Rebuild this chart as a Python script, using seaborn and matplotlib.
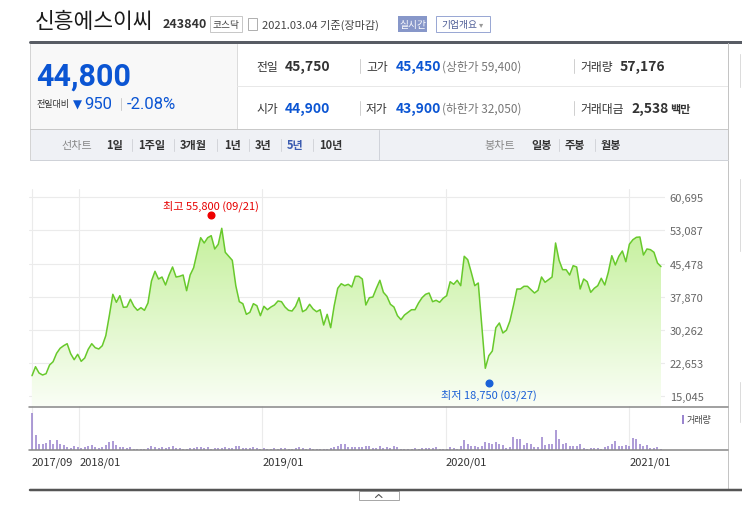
import matplotlib
matplotlib.use("Agg")
import matplotlib.pyplot as plt
import matplotlib.dates as mdates
import matplotlib.transforms as mtransforms
from matplotlib.colors import LinearSegmentedColormap
from matplotlib.lines import Line2D
from matplotlib.patches import Rectangle
import numpy as np
import pandas as pd
import seaborn as sns

W, H = 742, 510

# weekly closing prices, 2017/09 .. 2021/03
closes = [
    19770, 21835, 20390, 19930, 20230, 22225, 22980, 24910, 26060, 26650,
    27110, 24820, 23440, 24680, 23070, 23830, 25830, 27110, 26190, 25900,
    26650, 28950, 33540, 38440, 36610, 38120, 35460, 35530, 37300, 35690,
    34770, 35370, 34770, 36450, 41500, 43720, 41950, 42410, 40580, 42870,
    44710, 42410, 42570, 42870, 39270, 42870, 44550, 48080, 51430, 50210,
    51430, 51890, 48840, 49910, 53580, 48080, 47160, 46240, 40420, 36750,
    36290, 33850, 34310, 36290, 35830, 33540, 35690, 34910, 35530, 35990,
    36910, 36750, 35530, 34770, 34610, 35690, 37660, 34450, 34910, 36150,
    35070, 34450, 34910, 31400, 33850, 30780, 35830, 39820, 40870, 40420,
    40740, 40120, 42570, 42570, 41950, 35990, 37660, 37820, 39820, 41660,
    38900, 37980, 36150, 35530, 33540, 32620, 33690, 34310, 34910, 34910,
    36450, 37660, 38440, 38740, 36750, 37070, 36610, 37530, 38120, 41330,
    40740, 41660, 40420, 47160, 46380, 43490, 40420, 41040, 31250, 21470,
    24360, 25440, 30780, 31860, 29570, 30190, 32320, 35830, 39660, 39660,
    40280, 40280, 39500, 38740, 39360, 42410, 41200, 41790, 42410, 50210,
    46240, 44090, 44090, 42870, 45010, 44710, 39660, 41950, 41330, 38900,
    39820, 40420, 42120, 40580, 43490, 47300, 45170, 47160, 48380, 45920,
    49920, 50970, 51520, 51590, 47460, 48840, 48680, 48080, 45620, 44800,
]

# weekly volume (thousand shares, estimated)
volumes = [
    1080, 450, 180, 180, 200, 300, 180, 300, 180, 150,
    90, 70, 120, 90, 70, 90, 120, 150, 90, 50,
    90, 150, 240, 270, 150, 90, 90, 70, 90, 30,
    30, 30, 30, 70, 120, 90, 70, 90, 50, 90,
    120, 70, 70, 40, 40, 70, 70, 90, 90, 60,
    90, 40, 60, 60, 60, 90, 60, 60, 120, 120,
    60, 60, 60, 90, 60, 30, 60, 40, 40, 60,
    40, 60, 60, 40, 40, 60, 90, 60, 40, 60,
    40, 40, 40, 40, 40, 60, 90, 120, 180, 180,
    90, 90, 90,
    90, 90, 120, 120, 60, 60, 120, 60, 90, 60,
    120, 90, 30, 30, 30, 30, 60, 30, 60, 60,
    60, 60, 90, 30, 30, 30, 90, 60, 30, 120,
    300, 180, 120, 120, 90, 120, 240, 210, 180, 240,
    180, 150, 60, 90, 390, 330, 330, 150, 210, 180,
    90, 90, 390, 150, 180, 180, 570, 330, 180, 210,
    120, 120, 120, 180, 60, 30, 60, 60, 60, 30,
    90, 120, 180, 270, 120, 120, 150, 120, 360, 330,
    180, 120, 150, 60, 60, 90, 30,
]
last_week = "2021-03-05"

tick_dates = ["2017-09-29", "2018-01-01", "2019-01-01", "2020-01-01", "2021-01-01"]
tick_labels = ["2017/09", "2018/01", "2019/01", "2020/01", "2021/01"]
price_ticks = [15045, 22653, 30262, 37870, 45478, 53087, 60695]

hi_date, hi_value, hi_label = "2018-09-21", 55800, "최고 55,800 (09/21)"
lo_date, lo_value, lo_label = "2020-03-27", 18750, "최저 18,750 (03/27)"

name, code, market, asof = "신흥에스이씨", "243840", "코스닥", "2021.03.04 기준(장마감)"
price, change, change_pct = "44,800", "950", "-2.08%"
row1 = [("전일", "45,750", "dark", ""), ("고가", "45,450", "blue", "(상한가 59,400)"), ("거래량", "57,176", "dark", "")]
row2 = [("시가", "44,900", "blue", ""), ("저가", "43,900", "blue", "(하한가 32,050)"), ("거래대금", "2,538", "dark", "백만")]
line_tabs = ["1일", "1주일", "3개월", "1년", "3년", "5년", "10년"]
candle_tabs = ["일봉", "주봉", "월봉"]

BLUE = "#0b55d3"
DARK = "#333333"

sns.set_theme(style="white")
plt.rcParams["font.family"] = ["Noto Sans CJK KR", "DejaVu Sans"]

fig = plt.figure(figsize=(W / 100, H / 100), dpi=100)


def fx(x):
    return x / W


def fy(y):
    return 1 - y / H


def text(x, y, s, **kw):
    kw.setdefault("va", "center")
    fig.text(fx(x), fy(y), s, **kw)


def hline(x0, x1, y, color, lw=1.0):
    fig.add_artist(Line2D([fx(x0), fx(x1)], [fy(y), fy(y)], color=color, lw=lw * 0.72))


def vline(x, y0, y1, color, lw=1.0):
    fig.add_artist(Line2D([fx(x), fx(x)], [fy(y0), fy(y1)], color=color, lw=lw * 0.72))


def box(x0, y0, x1, y1, fc="none", ec="none", lw=1.0):
    fig.add_artist(Rectangle((fx(x0), fy(y1)), fx(x1) - fx(x0), fy(y0) - fy(y1),
                             facecolor=fc, edgecolor=ec, lw=lw * 0.72, transform=fig.transFigure))


# ---- header ----
text(35, 22, name, fontsize=15.5, color="#1a1a1a")
text(163, 25, code, fontsize=9, color=DARK, weight="bold")
box(210, 17, 242, 33, fc="white", ec="#c8c8c8")
text(226, 25, market, fontsize=7, color="#444", ha="center")
box(248, 19, 257, 31, fc="white", ec="#b0b0b0")
text(262, 25, asof, fontsize=8, color="#444")
box(398, 17, 427, 33, fc="#8797c9")
text(412.5, 25, "실시간", fontsize=7, color="white", ha="center")
box(436, 17, 490, 33, fc="white", ec="#9aa8d4")
text(441, 25, "기업개요", fontsize=7, color="#4d5c96")
text(479, 25, "▾", fontsize=6, color="#999")

hline(30, 742, 43, "#585c64", 3)

# ---- quote box ----
box(30, 45, 237, 130, fc="#f8f8f8")
vline(30, 45, 161, "#d4d4d4")
vline(237, 45, 130, "#dcdcdc")
hline(237, 728, 87, "#e8e8e8")
hline(30, 728, 130, "#c9c9c9")
vline(728, 44, 491, "#c4c4c4")

text(36, 77, price, fontsize=22, color=BLUE, weight="bold", family=["Roboto", "DejaVu Sans"])
text(36, 105, "전일대비", fontsize=6.5, color=DARK)
text(73, 105, "▼", fontsize=8.5, color=BLUE, family=["DejaVu Sans"])
text(84.5, 105, change, fontsize=12, color=BLUE, family=["Roboto", "DejaVu Sans"])
vline(121, 99, 111, "#cccccc")
text(127, 105, change_pct, fontsize=12, color=BLUE, family=["Roboto", "DejaVu Sans"])

cols = [256, 366, 580]
val_x = [285, 396, 620]
for y, row in [(67, row1), (109, row2)]:
    for i, (lab, val, tone, extra) in enumerate(row):
        if i > 0:
            vline(cols[i] - 6, y - 7, y + 7, "#d0d0d0")
        text(cols[i], y, lab, fontsize=8.5, color=DARK)
        vx = val_x[i] + (11 if lab == "거래대금" else 0)
        text(vx, y, val, fontsize=10, weight="bold", color=BLUE if tone == "blue" else DARK)
        if extra and lab != "거래대금":
            text(442, y, extra, fontsize=8.5, color="#777")
        elif extra:
            text(670, y, extra, fontsize=8, weight="bold", color=DARK)

# ---- tab bar ----
box(30, 131, 728, 161, fc="#eff1f5")
hline(30, 728, 161, "#cfd2d8")
vline(379, 131, 161, "#d0d3da")
text(61, 146, "선차트", fontsize=8, color="#888")
tab_x = [106, 138, 180, 224, 255, 287, 319]
for i, (t, x) in enumerate(zip(line_tabs, tab_x)):
    if i > 0:
        vline(x - 6.5, 140, 152, "#d3d5da")
    text(x, 146, t, fontsize=8, weight="bold", color="#3a5bb0" if t == "5년" else DARK)
text(484, 146, "봉차트", fontsize=8, color="#888")
for i, (t, x) in enumerate(zip(candle_tabs, [531, 565, 601])):
    if i > 0:
        vline(x - 6.5, 140, 152, "#d3d5da")
    text(x, 146, t, fontsize=8, weight="bold", color=DARK)

# ---- price chart ----
df = pd.DataFrame({
    "date": pd.date_range(end=last_week, periods=len(closes), freq="7D"),
    "close": closes,
    "volume": volumes,
})
ticks = mdates.date2num(pd.to_datetime(tick_dates))

d0, d1 = mdates.date2num(df["date"].iloc[0]), mdates.date2num(df["date"].iloc[-1])
per_px = (d1 - d0) / (661 - 32)
xlim = (d0 - 3 * per_px, d1 + 4 * per_px)
vp = (price_ticks[-1] - price_ticks[0]) / (397.3 - 198.3)
ylim = (price_ticks[0] - (408 - 397.3) * vp, price_ticks[-1] + (198.3 - 190) * vp)

ax = fig.add_axes([fx(29), fy(408), fx(665) - fx(29), (408 - 190) / H])
poly = ax.fill_between(df["date"], df["close"], ylim[0], color="none", lw=0)
cmap = LinearSegmentedColormap.from_list("fade", ["#fafef6", "#bcee8d"])
grad = np.linspace(0, 1, 256).reshape(-1, 1)
im = ax.imshow(grad, cmap=cmap, aspect="auto", origin="lower",
               extent=[xlim[0], xlim[1], ylim[0], price_ticks[-1]], zorder=1)
im.set_clip_path(poly.get_paths()[0], ax.transData)
sns.lineplot(data=df, x="date", y="close", ax=ax, color="#68c92c", lw=1.1, zorder=3)

ax.set_xlim(*xlim)
ax.set_ylim(*ylim)
ax.set_xticks(ticks)
ax.set_yticks(price_ticks)
ax.set_yticklabels([f"{v:,}" for v in price_ticks])
ax.yaxis.tick_right()
ax.tick_params(axis="x", length=0, labelbottom=False)
ax.tick_params(axis="y", length=0, pad=3.5, labelsize=8, labelcolor="#666")
ax.grid(True, color="#ebebeb", lw=0.8)
ax.set_axisbelow(True)
ax.set_xlabel("")
ax.set_ylabel("")
for s in ax.spines.values():
    s.set_visible(False)

up = mtransforms.offset_copy(ax.transData, fig=fig, y=2.6, units="points")
down = mtransforms.offset_copy(ax.transData, fig=fig, y=-2.0, units="points")
ax.plot([pd.Timestamp(hi_date)], [hi_value], "o", ms=4.8, color="#ee0000", transform=up, zorder=4)
ax.plot([pd.Timestamp(lo_date)], [lo_value], "o", ms=4.8, color="#1a62d8", transform=down, zorder=4)
ax.annotate(hi_label, xy=(pd.Timestamp(hi_date), hi_value), xytext=(0, 9.8), textcoords="offset points",
            ha="center", va="center", fontsize=8, color="#e60000")
ax.annotate(lo_label, xy=(pd.Timestamp(lo_date), lo_value), xytext=(0, -10), textcoords="offset points",
            ha="center", va="center", fontsize=8, color="#1a5fd6")

# ---- volume ----
vax = fig.add_axes([fx(29), fy(451), fx(665) - fx(29), (451 - 407) / H])
vax.vlines(df["date"], 0, df["volume"], color="#9780cc", lw=1.1)
vax.set_xlim(*xlim)
vax.set_ylim(0, max(volumes) * 44 / 37)
vax.set_yticks([])
vax.set_xticks(ticks)
vax.set_xticklabels(tick_labels)
for lbl in vax.get_xticklabels():
    lbl.set_ha("left")
vax.tick_params(axis="x", length=3, width=0.8, color="#999", pad=1.5, labelsize=8, labelcolor=DARK)
vax.grid(axis="x", color="#ebebeb", lw=0.8)
vax.set_axisbelow(True)
for s in vax.spines.values():
    s.set_visible(False)

hline(29, 728, 407.5, "#8c8c8c", 1.6)
hline(29, 728, 450.7, "#8c8c8c", 1.6)
box(681.5, 416, 684.3, 425, fc="#9b86cf")
text(687, 420.5, "거래량", fontsize=6.5, color="#444")

# ---- bottom bar ----
hline(30, 742, 491, "#555555", 2.5)
box(359, 492, 399, 500.5, fc="white", ec="#a8a8a8")
fig.add_artist(Line2D([fx(375.5), fx(378.7), fx(382)], [fy(498.5), fy(495.5), fy(498.5)],
                      color="#555", lw=0.8))

# page sidebar edge
for y0, y1 in [(55, 88), (180, 252), (383, 423)]:
    vline(739.5, y0, y1, "#dcdcdc")

fig.savefig("out.png", dpi=100)
